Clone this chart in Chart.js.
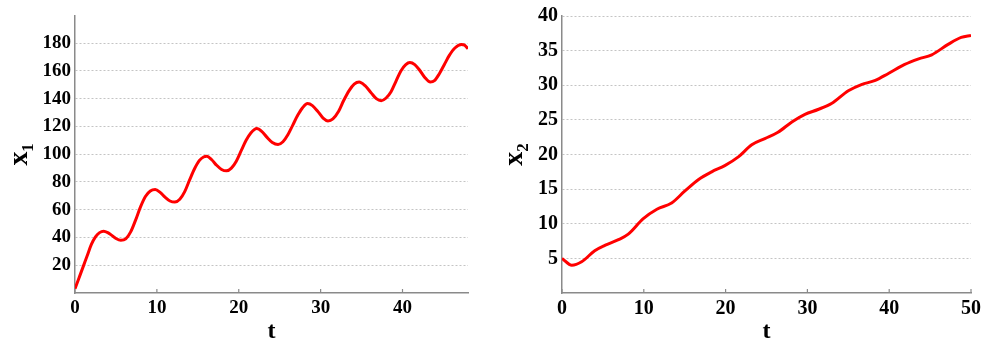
<!DOCTYPE html>
<html>
<head>
<meta charset="utf-8">
<script src="https://cdn.jsdelivr.net/npm/chart.js@4/dist/chart.umd.min.js"></script>
<style>
  html, body { margin: 0; padding: 0; background: #fff; overflow: hidden; }
  #wrap { position: relative; width: 990px; height: 346px; }
  canvas { position: absolute; top: 0; }
  #c1 { left: 0; }
  #c2 { left: 495px; }
</style>
</head>
<body>
<div id="wrap">
  <canvas id="c1" width="495" height="346"></canvas>
  <canvas id="c2" width="495" height="346"></canvas>
</div>
<script>
// ---- Left panel: x1(t) ----
const t1 = [0, 0.5, 1.0, 1.5, 2.0, 2.5, 3.0, 3.5, 4.0, 4.5, 5.0, 5.6, 6.2, 6.8, 7.4, 8.0, 8.6, 9.2, 9.8, 10.4, 11.0, 11.6, 12.2, 12.8, 13.4, 14.0, 14.6, 15.2, 15.7, 16.1, 16.7, 17.3, 17.9, 18.5, 19.1, 19.7, 20.3, 20.9, 21.5, 22.2, 22.8, 23.4, 24.1, 24.8, 25.4, 26.0, 26.6, 27.2, 27.8, 28.4, 29.0, 29.7, 30.3, 30.9, 31.5, 32.2, 32.8, 33.5, 34.1, 34.7, 35.4, 36.2, 36.8, 37.4, 38.0, 38.6, 39.2, 39.8, 40.4, 40.9, 41.5, 42.1, 42.7, 43.4, 43.9, 44.5, 45.1, 45.7, 46.4, 47.2, 47.6, 48];
const x1 = [3, 11, 19, 27, 35, 40.5, 43.5, 44.5, 43.5, 41.5, 39.3, 38, 39, 44, 52.5, 62, 69.5, 73.5, 74.5, 72.5, 69, 66.3, 65.5, 67.5, 73, 81.5, 89.5, 95.5, 98, 98.5, 96, 92, 89, 88, 90, 95, 102.5, 110, 115.5, 118.5, 116.5, 112.5, 108.5, 107, 109, 114, 121, 128, 133.5, 136.5, 135, 130.5, 126, 124, 125.5, 131, 138.5, 146, 150.5, 152, 149.5, 144, 140, 138.5, 140.5, 145, 152.5, 160, 164.5, 166, 164.5, 160.5, 155.5, 152, 153, 158, 164.5, 171, 176.5, 179, 178.5, 176];
const xTicks1 = [0, 10, 20, 30, 40];
const yTicks1 = [20, 40, 60, 80, 100, 120, 140, 160, 180];

// ---- Right panel: x2(t) ----
const t2 = [0, 1.2, 2.4, 4.0, 5.3, 6.9, 8.1, 9.9, 11.6, 13.4, 15.0, 16.7, 18.3, 19.9, 21.6, 23.2, 24.8, 26.4, 28.1, 29.7, 31.3, 33.0, 35.0, 36.6, 38.3, 39.9, 41.9, 43.6, 45.2, 47.2, 48.8, 50];
const x2 = [5.0, 4.0, 4.5, 6.1, 6.9, 7.7, 8.5, 10.7, 12.1, 13.0, 14.7, 16.4, 17.5, 18.4, 19.7, 21.4, 22.3, 23.2, 24.7, 25.8, 26.5, 27.4, 29.2, 30.1, 30.7, 31.7, 33.0, 33.8, 34.4, 35.9, 36.9, 37.2];
const xTicks2 = [0, 10, 20, 30, 40, 50];
const yTicks2 = [5, 10, 15, 20, 25, 30, 35, 40];

const SERIF = '"Liberation Serif", "DejaVu Serif", "Times New Roman", serif';
const AXIS_GRAY = '#8a8a8a';

const innerTicks = {
  id: 'innerTicks',
  afterDatasetsDraw(chart) {
    const xs = chart.scales.x;
    const ctx = chart.ctx;
    const bottom = chart.chartArea.bottom;
    ctx.save();
    ctx.strokeStyle = AXIS_GRAY;
    ctx.lineWidth = 1.2;
    xs.ticks.forEach(tk => {
      const px = xs.getPixelForValue(tk.value);
      ctx.beginPath();
      ctx.moveTo(px, bottom);
      ctx.lineTo(px, bottom - 4);
      ctx.stroke();
    });
    ctx.restore();
  }
};

function makeChart(id, tArr, vArr, cfg) {
  return new Chart(document.getElementById(id), {
    type: 'line',
    data: {
      datasets: [{
        data: tArr.map((t, i) => ({ x: t, y: vArr[i] })),
        borderColor: '#ff0000',
        borderWidth: 3,
        pointRadius: 0,
        fill: false,
        cubicInterpolationMode: 'monotone'
      }]
    },
    options: {
      responsive: false,
      devicePixelRatio: 1,
      animation: false,
      layout: { padding: { top: 13, right: cfg.padRight, left: 0, bottom: 0 } },
      plugins: { legend: { display: false }, tooltip: { enabled: false } },
      scales: {
        x: {
          type: 'linear',
          min: 0,
          max: cfg.xMax,
          afterBuildTicks: s => { s.ticks = cfg.xTicks.map(v => ({ value: v })); },
          afterFit: s => { s.height = 53; },
          grid: { display: false, drawTicks: false },
          border: { display: true, color: AXIS_GRAY, width: 1.5 },
          ticks: {
            color: '#000',
            padding: 4,
            maxRotation: 0,
            autoSkip: false,
            font: { family: SERIF, size: cfg.tickSize, weight: 'bold' }
          },
          title: {
            display: true,
            text: 't',
            color: '#000',
            padding: { top: 0, bottom: 0 },
            font: { family: SERIF, size: 24, weight: 'bold' }
          }
        },
        y: {
          type: 'linear',
          min: 0,
          max: cfg.yMax,
          afterBuildTicks: s => { s.ticks = cfg.yTicks.map(v => ({ value: v })); },
          afterFit: s => { s.width = cfg.yWidth; },
          grid: { display: true, drawTicks: false, color: '#c4c4c4', lineWidth: 1 },
          border: { display: true, color: AXIS_GRAY, width: 1.5, dash: [2, 2] },
          ticks: {
            color: '#000',
            padding: 4,
            autoSkip: false,
            font: { family: SERIF, size: cfg.tickSize, weight: 'bold' }
          },
          title: {
            display: true,
            text: cfg.yTitle,
            color: '#000',
            padding: { top: 3, bottom: 0 },
            font: { family: SERIF, size: 28, weight: 'bold' }
          }
        }
      }
    },
    plugins: [innerTicks]
  });
}

makeChart('c1', t1, x1, { xMax: 48, yMax: 200, xTicks: xTicks1, yTicks: yTicks1, yWidth: 75, padRight: 27, tickSize: 19, yTitle: 'x\u2081' });
makeChart('c2', t2, x2, { xMax: 50, yMax: 40, xTicks: xTicks2, yTicks: yTicks2, yWidth: 67, padRight: 19, tickSize: 20, yTitle: 'x\u2082' });
</script>
</body>
</html>
